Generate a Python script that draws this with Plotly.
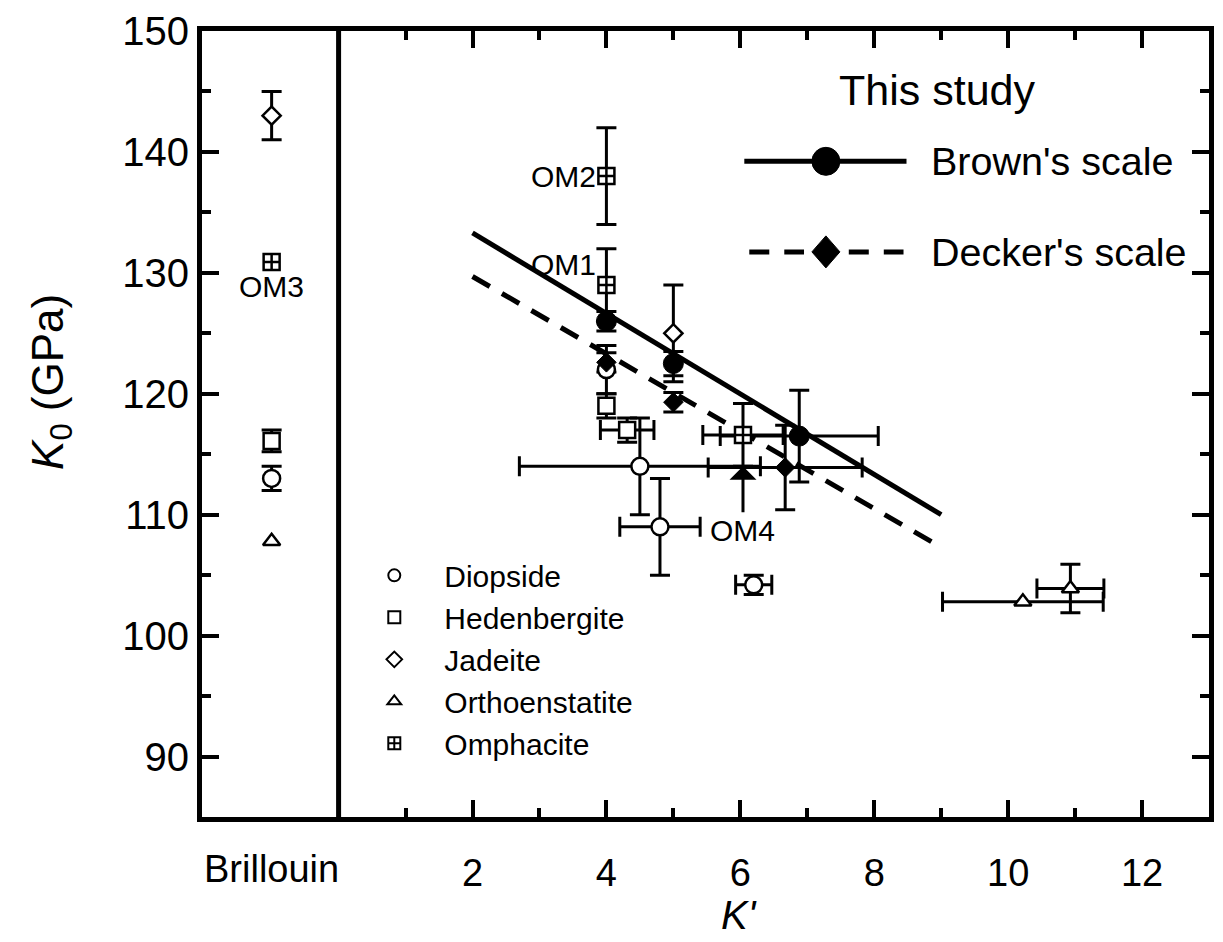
import plotly.graph_objects as go

# ---------------- data (K' , K0 in GPa); Brillouin results sit at x = -1 ----------------
diopside_x = [-1, 4.0, 4.5, 4.8, 6.2]
diopside_y = [113.0, 122.0, 114.0, 109.0, 104.2]
diopside_xerr = [None, None, 1.8, 0.6, 0.27]
diopside_yerr = [1.0, 2.0, 4.0, 4.0, 0.8]

hedenbergite_x = [-1, 4.0, 4.31]
hedenbergite_y = [116.1, 119.0, 117.0]
hedenbergite_xerr = [None, None, 0.4]
hedenbergite_yerr = [0.9, 1.0, 1.0]

jadeite_x = [-1, 5.0]
jadeite_y = [143.0, 125.0]
jadeite_xerr = [None, None]
jadeite_yerr = [2.0, 4.0]

orthoenstatite_x = [-1, 10.22, 10.93]
orthoenstatite_y = [107.8, 102.8, 103.9]
orthoenstatite_xerr = [None, 1.2, 0.5]
orthoenstatite_yerr = [None, None, 2.0]

omphacite_x = [-1, 4.0, 4.0, 6.04]
omphacite_y = [130.9, 138.0, 129.0, 116.6]
omphacite_xerr = [None, None, None, 0.6]
omphacite_yerr = [None, 4.0, 3.0, 2.6]
omphacite_labels = ["OM3", "OM2", "OM1", "OM4"]

brown_x = [4.0, 5.0, 6.88]
brown_y = [126.0, 122.5, 116.5]
brown_xerr = [None, None, 1.18]
brown_yerr = [0.8, 1.0, 3.8]

decker_x = [4.0, 5.0, 6.67]
decker_y = [122.6, 119.3, 113.9]
decker_xerr = [None, None, 1.15]
decker_yerr = [0.8, 0.8, 3.5]

fit_x = [2, 9]
brown_fit_y = [133.3, 110.0]
decker_fit_y = [129.7, 107.3]

x_tickvals = [2, 4, 6, 8, 10, 12]
x_ticktext = ["2", "4", "6", "8", "10", "12"]
x_minor_vals = [1, 3, 5, 7, 9, 11]
y_tickvals = [90, 100, 110, 120, 130, 140, 150]
y_minor_vals = [95, 105, 115, 125, 135, 145]
brillouin_x = -1
separator_x = 0

# ---------------- geometry helpers (pixel -> paper) ----------------
W, H = 1223, 942
PL, PR, PT, PB = 202, 1214, 27, 817
def fx(px):
    return (px - PL) / (PR - PL)
def fy(py):
    return (PB - py) / (PB - PT)

FONT = "Liberation Sans, Arial, Helvetica, sans-serif"
ERR = dict(color="black", thickness=3, width=10)

fig = go.Figure()

series = [
    ("Diopside", diopside_x, diopside_y, diopside_xerr, diopside_yerr, "circle", 17, "white"),
    ("Hedenbergite", hedenbergite_x, hedenbergite_y, hedenbergite_xerr, hedenbergite_yerr, "square", 16, "white"),
    ("Jadeite", jadeite_x, jadeite_y, jadeite_xerr, jadeite_yerr, "diamond", 14, "white"),
    ("Orthoenstatite", orthoenstatite_x, orthoenstatite_y, orthoenstatite_xerr, orthoenstatite_yerr, "triangle-up", 15, "white"),
    ("Omphacite", omphacite_x, omphacite_y, omphacite_xerr, omphacite_yerr, "square-cross", 16, "white"),
]
study = [
    ("Brown", brown_x, brown_y, brown_xerr, brown_yerr, "circle", 20, "black"),
    ("Decker", decker_x, decker_y, decker_xerr, decker_yerr, "diamond", 15, "black"),
]

# error bars first (beneath everything)
for name, xs, ys, xe, ye, sym, sz, fill in series + study:
    iy = [i for i, e in enumerate(ye) if e is not None]
    if iy:
        fig.add_trace(go.Scatter(
            x=[xs[i] for i in iy], y=[ys[i] for i in iy], mode="markers",
            marker=dict(size=1, opacity=0), showlegend=False, hoverinfo="skip",
            error_y=dict(type="data", array=[ye[i] for i in iy], **ERR)))
    ix = [i for i, e in enumerate(xe) if e is not None]
    if ix:
        fig.add_trace(go.Scatter(
            x=[xs[i] for i in ix], y=[ys[i] for i in ix], mode="markers",
            marker=dict(size=1, opacity=0), showlegend=False, hoverinfo="skip",
            error_x=dict(type="data", array=[xe[i] for i in ix], **ERR)))

# fit lines
fig.add_trace(go.Scatter(x=fit_x, y=brown_fit_y, mode="lines",
                         line=dict(color="black", width=5), showlegend=False, hoverinfo="skip"))
fig.add_trace(go.Scatter(x=fit_x, y=decker_fit_y, mode="lines",
                         line=dict(color="black", width=5, dash="20px,14px"),
                         showlegend=False, hoverinfo="skip"))

# mineral markers (legend)
for name, xs, ys, xe, ye, sym, sz, fill in series:
    fig.add_trace(go.Scatter(
        x=xs, y=ys, mode="markers", name=name,
        marker=dict(symbol=sym, size=sz, color=fill, line=dict(color="black", width=2.5))))

# this-study markers
for name, xs, ys, xe, ye, sym, sz, fill in study:
    fig.add_trace(go.Scatter(
        x=xs, y=ys, mode="markers", name=name, showlegend=False,
        marker=dict(symbol=sym, size=sz, color=fill, line=dict(color="black", width=1))))

annotations = []
# omphacite labels
annotations.append(dict(x=omphacite_x[0], y=omphacite_y[0], text=omphacite_labels[0], showarrow=False,
                        xanchor="center", yanchor="middle", yshift=-25, font=dict(size=30)))
annotations.append(dict(x=omphacite_x[1], y=omphacite_y[1], text=omphacite_labels[1], showarrow=False,
                        xanchor="right", yanchor="middle", xshift=-8, font=dict(size=30)))
annotations.append(dict(x=omphacite_x[2], y=omphacite_y[2], text=omphacite_labels[2], showarrow=False,
                        xanchor="right", yanchor="middle", xshift=-8, yshift=20, font=dict(size=30)))
annotations.append(dict(x=omphacite_x[3], y=omphacite_y[3] - omphacite_yerr[3], text=omphacite_labels[3],
                        showarrow=True, arrowhead=1, arrowsize=1.5, arrowwidth=3, arrowcolor="black",
                        ax=0, ay=64, standoff=0, font=dict(size=30)))

# Brillouin category label, axis titles
annotations.append(dict(x=brillouin_x, xref="x", y=fy(869), yref="paper", text="Brillouin",
                        showarrow=False, xanchor="center", yanchor="middle", font=dict(size=38)))
annotations.append(dict(x=fx(742), y=fy(916), xref="paper", yref="paper", text="<i>K'</i>",
                        showarrow=False, xanchor="center", yanchor="middle", font=dict(size=40),
                        borderpad=0))
annotations.append(dict(x=fx(50), y=fy(380), xref="paper", yref="paper",
                        text="<i>K</i><sub>0</sub> (GPa)", textangle=-90,
                        showarrow=False, xanchor="center", yanchor="middle", font=dict(size=44)))

# "This study" legend text
annotations.append(dict(x=fx(941), y=fy(86), xref="paper", yref="paper", text="This study",
                        showarrow=False, xanchor="center", yanchor="middle", font=dict(size=43)))
annotations.append(dict(x=fx(933), y=fy(158), xref="paper", yref="paper", text="Brown's scale",
                        showarrow=False, xanchor="left", yanchor="middle", font=dict(size=39.5)))
annotations.append(dict(x=fx(933), y=fy(249), xref="paper", yref="paper", text="Decker's scale",
                        showarrow=False, xanchor="left", yanchor="middle", font=dict(size=39.5)))

shapes = []
# separator between Brillouin and compression results
shapes.append(dict(type="line", xref="x", yref="paper", x0=separator_x, x1=separator_x, y0=0, y1=1,
                   line=dict(color="black", width=5)))
# legend samples for this study
shapes.append(dict(type="line", xref="paper", yref="paper", x0=fx(747), x1=fx(910), y0=fy(158), y1=fy(158),
                   line=dict(color="black", width=5)))
shapes.append(dict(type="circle", xref="paper", yref="paper", xsizemode="pixel", ysizemode="pixel",
                   xanchor=fx(829), yanchor=fy(158), x0=-14, x1=14, y0=-14, y1=14,
                   fillcolor="black", line=dict(color="black", width=1)))
shapes.append(dict(type="line", xref="paper", yref="paper", x0=fx(752), x1=fx(807), y0=fy(249), y1=fy(249),
                   line=dict(color="black", width=5, dash="20px,15px")))
shapes.append(dict(type="line", xref="paper", yref="paper", x0=fx(852), x1=fx(907), y0=fy(249), y1=fy(249),
                   line=dict(color="black", width=5, dash="20px,15px")))
shapes.append(dict(type="path", xref="paper", yref="paper", xsizemode="pixel", ysizemode="pixel",
                   xanchor=fx(829), yanchor=fy(249), path="M -14 0 L 0 16 L 14 0 L 0 -16 Z",
                   fillcolor="black", line=dict(color="black", width=1)))

fig.update_layout(
    width=W, height=H,
    margin=dict(l=PL, r=W - PR, t=PT, b=H - PB),
    plot_bgcolor="white", paper_bgcolor="white",
    font=dict(family=FONT, color="black", size=40),
    annotations=annotations, shapes=shapes,
    legend=dict(x=fx(345), y=fy(548), xref="paper", yref="paper", xanchor="left", yanchor="top",
                font=dict(size=30), itemsizing="constant", itemwidth=90,
                bgcolor="rgba(0,0,0,0)", borderwidth=0, tracegroupgap=0),
    xaxis=dict(range=[-2.04, 13], showline=True, linewidth=5, linecolor="black", mirror="ticks",
               ticks="inside", ticklen=17, tickwidth=4, tickcolor="black",
               tickmode="array", tickvals=x_tickvals, ticktext=x_ticktext,
               tickfont=dict(size=38), ticklabelstandoff=18,
               showgrid=False, zeroline=False,
               minor=dict(tickmode="array", tickvals=x_minor_vals, ticks="inside", ticklen=9,
                          tickwidth=4, tickcolor="black", showgrid=False)),
    yaxis=dict(range=[85, 150], showline=True, linewidth=5, linecolor="black", mirror="ticks",
               ticks="inside", ticklen=17, tickwidth=4, tickcolor="black",
               tickmode="array", tickvals=y_tickvals, tickfont=dict(size=40),
               showgrid=False, zeroline=False,
               minor=dict(tickmode="array", tickvals=y_minor_vals, ticks="inside", ticklen=9,
                          tickwidth=4, tickcolor="black", showgrid=False)),
)

fig.write_html("out.html")
